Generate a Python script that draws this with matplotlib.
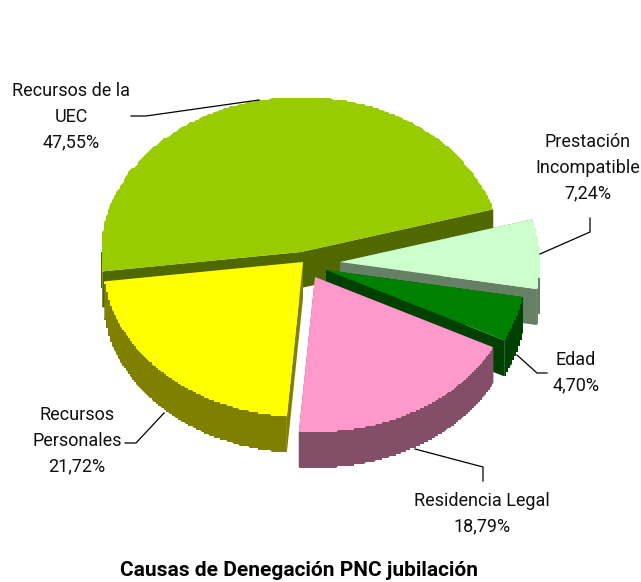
import matplotlib
matplotlib.use('Agg')
import matplotlib.pyplot as plt
from matplotlib.patches import Polygon
import numpy as np

# data
names = ['Recursos de la\nUEC', 'Recursos\nPersonales', 'Residencia Legal', 'Edad', 'Prestación\nIncompatible']
values = [47.55, 21.72, 18.79, 4.70, 7.24]
title = 'Causas de Denegación PNC jubilación'

# style, one entry per slice
top_colors = ['#99CC00', '#FFFF00', '#FF99CC', '#008000', '#CCFFCC']
side_colors = ['#4F6900', '#808000', '#844E69', '#004000', '#668066']
centers = [(301, 252), (303, 262), (315, 277), (326, 270), (340, 262)]
label_pos = [(71, 117), (77, 441), (482, 514), (576, 373), (588, 168)]
leaders = [
    [(131, 116), (146, 116), (259, 100)],
    [(125, 443), (136, 443), (164, 413)],
    [(483, 481), (483, 467), (415, 449)],
    [(547, 373), (537, 373), (517, 355)],
    [(590, 218), (590, 232), (540, 254)],
]
draw_order = [0, 4, 3, 2, 1]

RX, RY, DEPTH = 200, 155, 36
START_ANGLE = 16
STEP = 2.0
FONT = ['Roboto', 'Liberation Sans']


def arc(center, t0, t1):
    # outer edge of a slice, snapped to a coarse grid so it looks stair-stepped
    t = np.radians(np.linspace(t0, t1, 200))
    x = center[0] + RX * np.cos(t)
    y = center[1] - RY * np.sin(t)
    pts = np.column_stack([np.round(x / STEP) * STEP, np.round(y / STEP) * STEP])
    pts[0] = x[0], y[0]
    pts[-1] = x[-1], y[-1]
    return pts


def cut_face(ax, center, t, color):
    a = np.radians(t)
    p = (center[0] + RX * np.cos(a), center[1] - RY * np.sin(a))
    pts = [center, p, (p[0], p[1] + DEPTH), (center[0], center[1] + DEPTH)]
    ax.add_patch(Polygon(pts, closed=True, fc=color, ec='none'))


def draw_slice(ax, center, t0, t1, top, side):
    cut_face(ax, center, t0, side)
    cut_face(ax, center, t1, side)
    # only the front half of the rim can be seen
    w0, w1 = t0, t1
    if t0 < 180:
        w0 = 180
    if t1 > 360:
        w1 = 360
    if w1 > w0:
        rim = arc(center, w0, w1)
        wall = np.vstack([rim, (rim + [0, DEPTH])[::-1]])
        ax.add_patch(Polygon(wall, closed=True, fc=side, ec='none'))
    pts = np.vstack([[center], arc(center, t0, t1)])
    ax.add_patch(Polygon(pts, closed=True, fc=top, ec='none'))


fig = plt.figure(figsize=(6.41, 5.82), dpi=100)
ax = fig.add_axes([0, 0, 1, 1])
ax.set_xlim(0, 641)
ax.set_ylim(582, 0)
ax.axis('off')

edges = START_ANGLE + np.concatenate([[0], np.cumsum(values)]) * 3.6
for i in draw_order:
    draw_slice(ax, centers[i], edges[i], edges[i + 1], top_colors[i], side_colors[i])

for line in leaders:
    xs, ys = zip(*line)
    ax.plot(xs, ys, color='black', lw=0.9, solid_joinstyle='miter')

for name, val, (x, y) in zip(names, values, label_pos):
    pct = f'{val:.2f}'.replace('.', ',') + '%'
    ax.text(x, y, name + '\n' + pct, ha='center', va='center', fontsize=13,
            family=FONT, color='#111111', linespacing=1.55)

ax.text(299, 571, title, ha='center', va='center', fontsize=15, fontweight='bold',
        family=FONT, color='black')

fig.savefig('out.png', dpi=100)
